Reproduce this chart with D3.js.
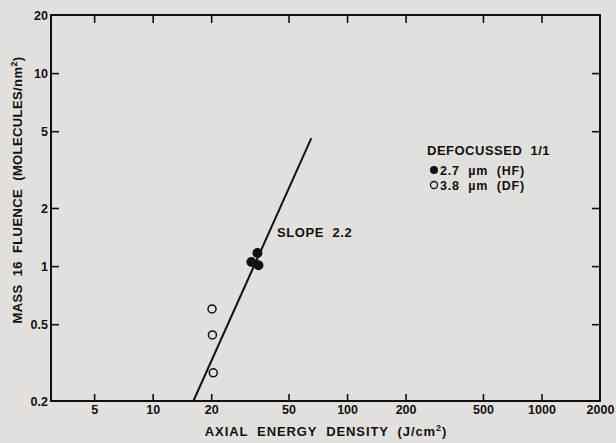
<!DOCTYPE html>
<html><head><meta charset="utf-8">
<script src="https://cdn.jsdelivr.net/npm/d3@7"></script>
<style>
html,body{margin:0;padding:0;background:#e1e0dd;}
svg{display:block;}
text{font-family:"Liberation Sans",Arial,Helvetica,sans-serif;font-weight:bold;fill:#111;}
</style></head>
<body>
<script>
// Data
const xTicks = [5, 10, 20, 50, 100, 200, 500, 1000, 2000];
const yTicks = [0.2, 0.5, 1, 2, 5, 10, 20];
const hfEnergy = [34.6, 32.2, 35.0];      // 2.7 µm (HF), filled
const hfFluence = [1.17, 1.05, 1.01];
const dfEnergy = [20.2, 20.3, 20.5];      // 3.8 µm (DF), open
const dfFluence = [0.60, 0.44, 0.28];
const fitEnergy = [16.2, 65.5];           // slope 2.2 line
const fitFluence = [0.2, 4.6];

const W = 616, H = 443;
const svg = d3.select("body").append("svg").attr("width", W).attr("height", H);
const x = d3.scaleLog().domain([3, 2000]).range([51, 600]);
const y = d3.scaleLog().domain([0.2, 20]).range([401, 15]);

const fmt = d => String(d);

// frame
svg.append("rect").attr("x", 51).attr("y", 15).attr("width", 549).attr("height", 386)
  .attr("fill", "none").attr("stroke", "#111").attr("stroke-width", 2);

// bottom axis
const bx = svg.append("g").attr("transform", "translate(0,401)")
  .call(d3.axisBottom(x).tickValues(xTicks).tickFormat(fmt).tickSize(-7).tickPadding(4));
bx.select(".domain").remove();
bx.selectAll(".tick").filter(d => d === 2000).select("line").remove();
// top axis
const tx = svg.append("g").attr("transform", "translate(0,15)")
  .call(d3.axisTop(x).tickValues(xTicks.filter(d => d < 2000)).tickFormat("").tickSize(-8));
tx.select(".domain").remove();
// left axis
const ly = svg.append("g").attr("transform", "translate(51,0)")
  .call(d3.axisLeft(y).tickValues(yTicks).tickFormat(fmt).tickSize(-8).tickPadding(3));
ly.select(".domain").remove();
ly.selectAll(".tick").filter(d => d === 0.2 || d === 20).select("line").remove();
// right axis
const ry = svg.append("g").attr("transform", "translate(600,0)")
  .call(d3.axisRight(y).tickValues(yTicks.filter(d => d > 0.2 && d < 20)).tickFormat("").tickSize(-8));
ry.select(".domain").remove();

svg.selectAll(".tick line").attr("stroke", "#111").attr("stroke-width", 1.6);
svg.selectAll(".tick text").attr("font-size", 12.5).attr("font-family", "'Liberation Sans',Arial,sans-serif")
  .attr("font-weight", "bold").attr("fill", "#111");

// fit line
svg.append("path")
  .datum(fitEnergy.map((e, i) => [e, fitFluence[i]]))
  .attr("d", d3.line().x(d => x(d[0])).y(d => y(d[1])))
  .attr("stroke", "#111").attr("stroke-width", 2).attr("fill", "none");

// points
svg.selectAll("circle.hf").data(hfEnergy.map((e, i) => [e, hfFluence[i]])).enter()
  .append("circle").attr("class", "hf")
  .attr("cx", d => x(d[0])).attr("cy", d => y(d[1])).attr("r", 5).attr("fill", "#111");
svg.selectAll("circle.df").data(dfEnergy.map((e, i) => [e, dfFluence[i]])).enter()
  .append("circle").attr("class", "df")
  .attr("cx", d => x(d[0])).attr("cy", d => y(d[1])).attr("r", 4)
  .attr("fill", "none").attr("stroke", "#111").attr("stroke-width", 1.5);

// slope label
svg.append("text").attr("x", 277).attr("y", 237).attr("font-size", 13)
  .attr("letter-spacing", 0.6).attr("xml:space", "preserve").text("SLOPE  2.2");

// legend
svg.append("text").attr("x", 427).attr("y", 155).attr("font-size", 13)
  .attr("letter-spacing", 0.5).attr("xml:space", "preserve").text("DEFOCUSSED  1/1");
svg.append("circle").attr("cx", 434).attr("cy", 170).attr("r", 4).attr("fill", "#111");
svg.append("text").attr("x", 440).attr("y", 174.5).attr("font-size", 12.5)
  .attr("letter-spacing", 0.8).attr("xml:space", "preserve").text("2.7  µm  (HF)");
svg.append("circle").attr("cx", 434).attr("cy", 185).attr("r", 3.5)
  .attr("fill", "none").attr("stroke", "#111").attr("stroke-width", 1.3);
svg.append("text").attr("x", 440).attr("y", 189.5).attr("font-size", 12.5)
  .attr("letter-spacing", 0.8).attr("xml:space", "preserve").text("3.8  µm  (DF)");

// x title
const xt = svg.append("text").attr("x", 326).attr("y", 436).attr("text-anchor", "middle")
  .attr("font-size", 13).attr("letter-spacing", 0.9).attr("xml:space", "preserve");
xt.append("tspan").text("AXIAL  ENERGY  DENSITY  (J/cm");
xt.append("tspan").attr("dy", -5).attr("font-size", 9).text("2");
xt.append("tspan").attr("dy", 5).text(")");

// y title
const yt = svg.append("text").attr("transform", "translate(22,190) rotate(-90)")
  .attr("text-anchor", "middle").attr("font-size", 13).attr("letter-spacing", 0.4).attr("xml:space", "preserve");
yt.append("tspan").text("MASS  16  FLUENCE  (MOLECULES/nm");
yt.append("tspan").attr("dy", -5).attr("font-size", 9).text("2");
yt.append("tspan").attr("dy", 5).text(")");
</script>
</body></html>
